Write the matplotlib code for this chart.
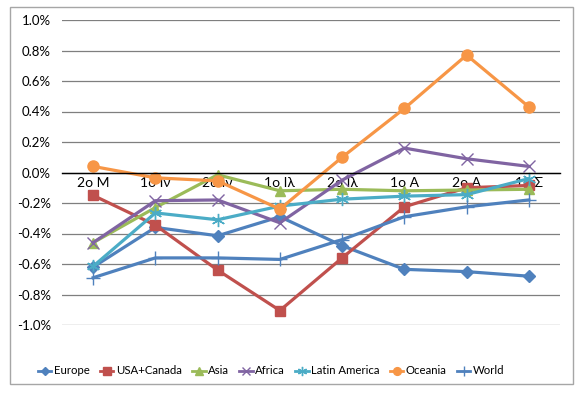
import numpy as np
import matplotlib.pyplot as plt
from matplotlib.patches import Rectangle
from matplotlib.lines import Line2D

plt.rcParams['font.family'] = ['Lato', 'DejaVu Sans']

# half-month periods (Greek month initials)
periods = ['2ο Μ', '1ο Ιν', '2ο Ιν', '1ο Ιλ', '2ο Ιλ', '1ο Α', '2ο Α', '1ο Σ']

# % change per period
europe = [-0.62, -0.36, -0.415, -0.29, -0.48, -0.635, -0.65, -0.68]
usa_canada = [-0.15, -0.345, -0.64, -0.905, -0.56, -0.225, -0.10, -0.085]
asia = [-0.46, -0.23, -0.015, -0.12, -0.11, -0.12, -0.115, -0.11]
africa = [-0.46, -0.185, -0.18, -0.33, -0.05, 0.16, 0.09, 0.04]
latin_america = [-0.615, -0.265, -0.31, -0.22, -0.175, -0.155, -0.145, -0.04]
oceania = [0.04, -0.035, -0.055, -0.24, 0.10, 0.42, 0.77, 0.43]
world = [-0.69, -0.56, -0.56, -0.57, -0.44, -0.29, -0.225, -0.18]

fig = plt.figure(figsize=(5.77, 3.97), dpi=100)
ax = fig.add_axes([62/577, 1 - 325/397, (560 - 62)/577, (325 - 20)/397])

# outer chart border like the spreadsheet frame
fig.patches.append(Rectangle((10/577, 1 - 384/397), 563/577, 377/397,
                             transform=fig.transFigure, fill=False,
                             edgecolor='#a6a6a6', linewidth=1))

x = np.arange(len(periods))
lw = 2.3
series = [
    ('Europe', europe, '#4F81BD', 'D', 6.5),
    ('USA+Canada', usa_canada, '#C0504D', 's', 7.5),
    ('Asia', asia, '#9BBB59', '^', 7.5),
    ('Africa', africa, '#8064A2', 'x', 8.5),
    ('Latin America', latin_america, '#4BACC6', (6, 2, 0), 9.5),
    ('Oceania', oceania, '#F79646', 'o', 8),
    ('World', world, '#4F81BD', '+', 10),
]
handles = []
for name, vals, col, mk, ms in series:
    ax.plot(x, vals, color=col, marker=mk, ms=ms, mew=1, lw=lw, clip_on=False)
    handles.append(Line2D([], [], color=col, marker=mk, ms=ms * 0.7, mew=1, lw=2, label=name))

ax.set_xlim(-0.5, len(periods) - 0.5)
ax.set_ylim(-1.0, 1.0)
yt = np.round(np.arange(-1.0, 1.01, 0.2), 1) + 0.0
ax.set_yticks(yt)
ax.set_yticklabels(['%.1f%%' % (v if abs(v) > 1e-9 else 0.0) for v in yt], fontsize=9.5)
ax.grid(axis='y', color='#7f7f7f', lw=0.9)
ax.set_axisbelow(True)
ax.tick_params(axis='y', length=0, pad=8)

ax.set_xticks(x)
ax.set_xticklabels(periods, fontsize=9.5)
ax.tick_params(axis='x', length=0, pad=3)
for s in ['top', 'right', 'left']:
    ax.spines[s].set_visible(False)
ax.spines['bottom'].set_position(('data', 0))
ax.spines['bottom'].set_color('black')
ax.spines['bottom'].set_linewidth(1)

fig.legend(handles=handles, loc='center', bbox_to_anchor=(271/577, 1 - 371/397), ncol=7,
           frameon=False, fontsize=8.2, handlelength=1.2, handletextpad=0.2,
           columnspacing=0.9)

fig.savefig('out.png', dpi=100)
